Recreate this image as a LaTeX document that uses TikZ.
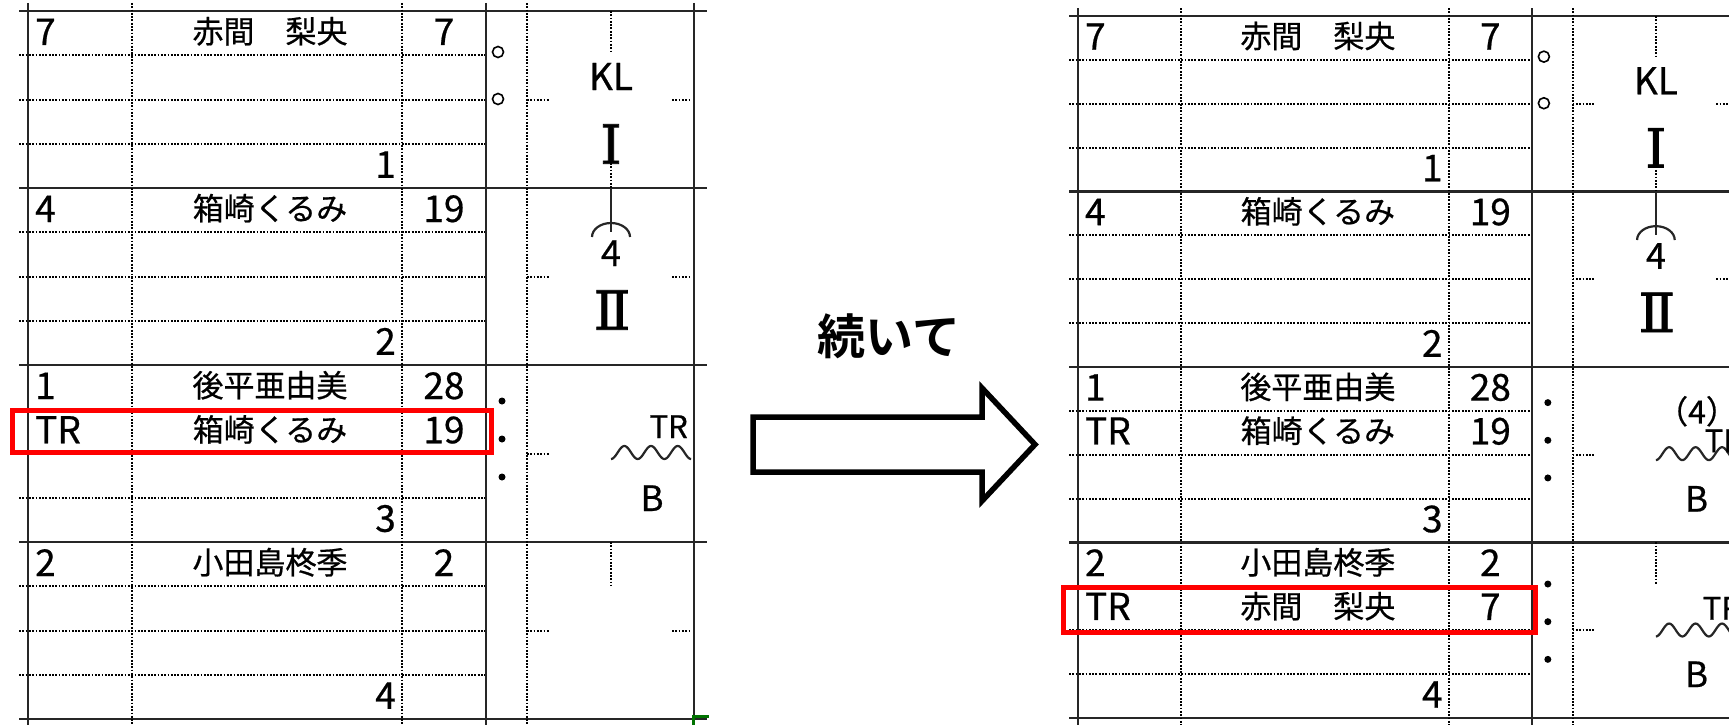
\documentclass[tikz,border=0pt]{standalone}
\usepackage{fontspec}
\setmainfont{Noto Sans CJK JP}[BoldFont={Noto Sans CJK JP Bold}]
\newfontfamily\sheetfont{Noto Sans CJK JP}[FakeBold=0.6]
\newfontfamily\romanfont{DejaVu Serif}[FakeBold=1.4]

% one line of the batting order: prefix, row, order, name, number
\newcommand{\orderline}[5]{%
  \node[numtext, anchor=base west] (#1-o#2) at (35,{45+44.25*#2}) {#3};
  \node[nametext, anchor=base] (#1-n#2) at (270,{43+44.25*#2}) {#4};
  \node[numtext, anchor=base] (#1-s#2) at (444,{45+44.25*#2}) {#5};
}
% inning number in the bottom right of a block: prefix, block, number
\newcommand{\inningno}[3]{%
  \node[numtext, anchor=base east] (#1-i#2) at (396,{45+44.25*(4*#2+3)}) {#3};
}
% the ruled sheet
\newcommand{\sheetgrid}{%
  % block lines
  \foreach \k in {0,4,8,12,16}
    \draw[solidline] (19,{11+44.25*\k}) -- (707,{11+44.25*\k});
  % dotted lines of the order table
  \foreach \k in {1,2,3,5,6,7,9,10,11,13,14,15}
    \draw[dotline] (19,{11+44.25*\k}) -- (486,{11+44.25*\k});
  % columns
  \foreach \x in {28,486,694}
    \draw[solidline] (\x,3) -- (\x,735);
  \foreach \x in {132,402,527}
    \draw[dotline] (\x,3) -- (\x,735);
  % diamond stubs, left side
  \foreach \k in {0,1,2,3}
    \draw[dotline] (527,{99.5+177*\k}) -- (550,{99.5+177*\k});
  % diamond stubs, right side
  \foreach \k in {0,1}
    \draw[dotline] (672,{99.5+177*\k}) -- (690,{99.5+177*\k});
}
% what both sheets show: prefix
\newcommand{\commonmarks}[1]{%
  \orderline{#1}{0}{7}{赤間　梨央}{7}
  \inningno{#1}{0}{1}
  \orderline{#1}{4}{4}{箱崎くるみ}{19}
  \inningno{#1}{1}{2}
  \orderline{#1}{8}{1}{後平亜由美}{28}
  \orderline{#1}{9}{TR}{箱崎くるみ}{19}
  \inningno{#1}{2}{3}
  \orderline{#1}{12}{2}{小田島柊季}{2}
  \inningno{#1}{3}{4}
  % first inning: two outs, strikeout
  \node[outmark] (#1-out1) at (498,52) {};
  \node[outmark] (#1-out2) at (498,99) {};
  \draw[dotline] (611,11) -- (611,53);
  \node[marktext, font=\sheetfont\fontsize{37}{40}\selectfont, anchor=base] (#1-kl) at (611,90) {KL};
  \node[romantext] (#1-r1) at (611,144) {Ⅰ};
  \draw[dotline] (611,163) -- (611,188);
  % second inning
  \draw[solidline] (611,188) -- (611,232);
  \draw[solidline, line width=2.2pt] (592,237) arc[start angle=180, end angle=360, x radius=19, y radius=14];
  \node[marktext, font=\sheetfont\fontsize{36}{40}\selectfont, anchor=base] (#1-four) at (611,266) {4};
  \node[romantext] (#1-r2) at (612,310) {Ⅱ};
  % third inning
  \foreach \y [count=\i] in {401,439,477}
    \node[ballmark] (#1-b\i) at (502,\y) {};
  \draw[waveline] plot[domain=0:3, samples=91, smooth] ({611+26.7*\x},{452.5+6.5*cos(360*\x)});
  \node[marktext, anchor=base] (#1-base) at (652,511) {B};
  % fourth inning
  \draw[dotline] (611,542) -- (611,585);
}

\begin{document}
\begin{tikzpicture}[x=1pt, y=-1pt,
  solidline/.style={line width=2.6pt, black!85},
  dotline/.style={line width=2pt, black, dash pattern=on 1.8pt off 1.5pt},
  numtext/.style={font=\sheetfont\fontsize{37}{42}\selectfont, inner sep=0pt},
  nametext/.style={font=\sheetfont\fontsize{31}{36}\selectfont, inner sep=0pt},
  marktext/.style={font=\sheetfont\fontsize{35}{38}\selectfont, inner sep=0pt},
  smalltext/.style={font=\sheetfont\fontsize{31}{36}\selectfont, inner sep=0pt},
  romantext/.style={font=\romanfont\fontsize{54}{58}\selectfont, inner sep=0pt},
  outmark/.style={circle, draw=black, line width=1.6pt, inner sep=0pt, minimum size=11pt},
  ballmark/.style={circle, fill=black, inner sep=0pt, minimum size=7pt},
  waveline/.style={line width=2.2pt, black!85},
  redbox/.style={draw=red, line width=5pt},
  bigarrow/.style={draw=black, line width=5.5pt, fill=white, line join=miter}]
\useasboundingbox (0,0) rectangle (1729,725);
\clip (0,0) rectangle (1729,725);

% sheet before
\begin{scope}
  \sheetgrid
  \commonmarks{L}
  \draw[dotline] (672,630.5) -- (690,630.5);
  \node[smalltext, anchor=base east] (L-tr) at (688,438) {TR};
  % selection corner
  \draw[green!45!black, line width=3pt] (693,726) -- (693,716) -- (709,716);
\end{scope}
% the changed line
\draw[redbox] (12.5,410.5) rectangle (491.5,452.5);

% arrow with its caption
\node[font=\bfseries\fontsize{48}{54}\selectfont] (next) at (889,336) {続いて};
\draw[bigarrow] (753,417) -- (982,417) -- (982,388) -- (1035,444.5) -- (982,501)
  -- (982,472) -- (753,472) -- cycle;

% sheet after
\begin{scope}[shift={(1050.2,5.1)}, scale=0.9913]
  \sheetgrid
  \commonmarks{R}
  \node[font=\sheetfont\fontsize{32}{36}\selectfont, inner sep=0pt, anchor=base] (R-four) at (652.5,422) {（4）};
  \node[smalltext, anchor=base west] (R-tr3) at (660,451) {TR};
  \orderline{R}{13}{TR}{赤間　梨央}{7}
  \foreach \y [count=\i] in {584,622,660}
    \node[ballmark] (R-c\i) at (502,\y) {};
  \draw[waveline] plot[domain=0:3, samples=91, smooth] ({611+26.7*\x},{630.4+6.5*cos(360*\x)});
  \node[smalltext, anchor=base west] (R-tr4) at (658,620) {TR};
  \node[marktext, anchor=base] (R-base4) at (652,688) {B};
\end{scope}
% the changed line
\draw[redbox] (1063.5,587.5) rectangle (1535.5,632.5);
\end{tikzpicture}
\end{document}
